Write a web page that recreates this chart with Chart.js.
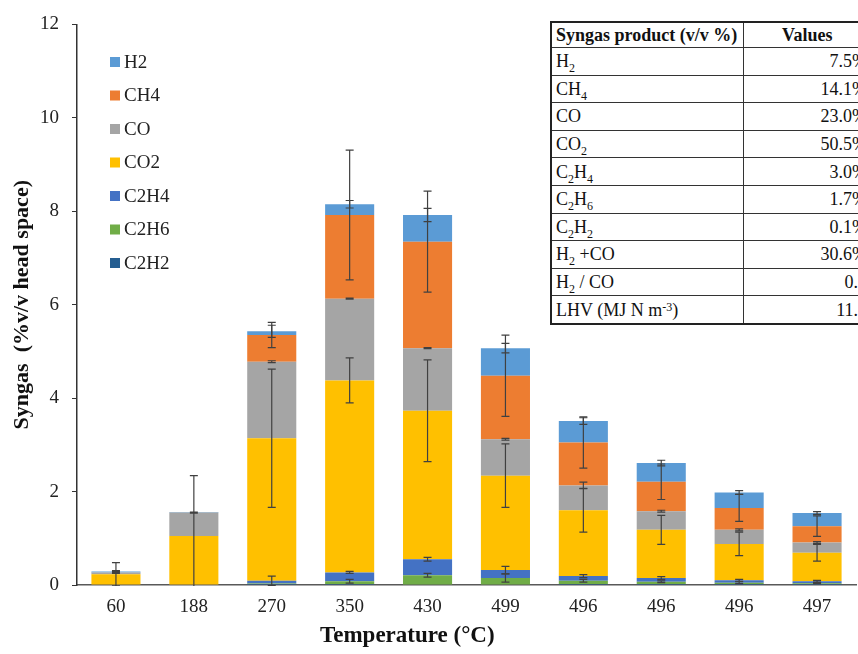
<!DOCTYPE html>
<html>
<head>
<meta charset="utf-8">
<script src="https://cdn.jsdelivr.net/npm/chart.js@4.4.1/dist/chart.umd.min.js"></script>
<style>
  body { margin: 0; background: #fff; overflow: hidden; }
  #wrap { position: relative; width: 858px; height: 654px; overflow: hidden; }
  #grafico { position: absolute; left: 0; top: 0; }
  #tituloX { position: absolute; left: 320px; top: 622px; font: bold 23px "Liberation Serif"; color: #111; white-space: nowrap; }
  #tabela { position: absolute; left: 550px; top: 21px; width: 321px; table-layout: fixed; border-collapse: collapse; font: 18px "Liberation Serif"; color: #111; background: #fff; border: 2px solid #222; }
  #tabela td, #tabela th { border: 1px solid #333; padding: 0 4px; line-height: 18px; white-space: nowrap; overflow: hidden; }
  #tabela th { height: 24px; font-weight: bold; }
  #tabela td { height: 26.6px; }
  #tabela col.c1 { width: 192px; }
  #tabela col.c2 { width: 129px; }
  #tabela td:first-child, #tabela th:first-child { text-align: left; }
  #tabela td:last-child { text-align: right; }
  #tabela sub { font-size: 12px; vertical-align: -5px; line-height: 0; }
  #tabela sup { font-size: 12px; vertical-align: 5px; line-height: 0; }
</style>
</head>
<body>
<div id="wrap">
  <canvas id="grafico" width="858" height="654"></canvas>
  <div id="tituloX">Temperature (°C)</div>
  <table id="tabela"></table>
</div>
<script>
// temperaturas (rótulos do eixo x)
const rotulos = ["60", "188", "270", "350", "430", "499", "496", "496", "496", "497"];

// composição do gás (% v/v head space), de baixo para cima na pilha
const C2H2 = [0, 0, 0.02, 0.02, 0.01, 0.01, 0.02, 0.02, 0.02, 0.02];
const C2H6 = [0, 0, 0.01, 0.06, 0.20, 0.14, 0.07, 0.05, 0.03, 0.02];
const C2H4 = [0, 0, 0.06, 0.19, 0.34, 0.17, 0.10, 0.08, 0.05, 0.04];
const CO2  = [0.23, 1.05, 3.05, 4.11, 3.18, 2.02, 1.41, 1.03, 0.78, 0.61];
const CO   = [0.04, 0.50, 1.64, 1.75, 1.34, 0.78, 0.53, 0.40, 0.30, 0.22];
const CH4  = [0, 0, 0.57, 1.79, 2.28, 1.36, 0.92, 0.63, 0.47, 0.35];
const H2   = [0.02, 0.01, 0.08, 0.23, 0.57, 0.59, 0.46, 0.40, 0.33, 0.28];

// barras de erro (±)
const erroC2H2 = [0, 0, 0, 0, 0, 0, 0, 0, 0, 0];
const erroC2H6 = [0, 0, 0, 0.04, 0.04, 0.09, 0.03, 0.02, 0.02, 0.01];
const erroC2H4 = [0, 0, 0.10, 0.02, 0.04, 0.08, 0.03, 0.03, 0.02, 0.02];
const erroCO2  = [0.25, 1.29, 1.48, 0.48, 1.09, 0.68, 0.47, 0.31, 0.25, 0.18];
const erroCO   = [0.02, 0.01, 0.02, 0.01, 0.01, 0.02, 0.07, 0.02, 0.02, 0.02];
const erroCH4  = [0, 0, 0.27, 1.39, 1.08, 0.87, 0.55, 0.38, 0.29, 0.22];
const erroH2   = [0.02, 0, 0.13, 0.08, 0.14, 0.10, 0.07, 0.06, 0.04, 0.03];

const ticksY = [0, 2, 4, 6, 8, 10, 12];

// tabela de resumo
const produtos = ["H<sub>2</sub>", "CH<sub>4</sub>", "CO", "CO<sub>2</sub>", "C<sub>2</sub>H<sub>4</sub>",
  "C<sub>2</sub>H<sub>6</sub>", "C<sub>2</sub>H<sub>2</sub>", "H<sub>2</sub> +CO", "H<sub>2</sub> / CO",
  "LHV (MJ N m<sup>-3</sup>)"];
const valores = ["7.5%", "14.1%", "23.0%", "50.5%", "3.0%", "1.7%", "0.1%", "30.6%", "0.3", "11.1"];

let html = '<colgroup><col class="c1"><col class="c2"></colgroup>';
html += "<tr><th>Syngas product (v/v %)</th><th>Values</th></tr>";
produtos.forEach((p, i) => {
  html += `<tr><td>${p}</td><td>${valores[i]}</td></tr>`;
});
document.getElementById("tabela").innerHTML = html;

const fonte = '"Liberation Serif", "Times New Roman", serif';

const barrasErro = {
  id: "barrasErro",
  afterDatasetsDraw(chart) {
    const ctx = chart.ctx;
    const y = chart.scales.y;
    const area = chart.chartArea;
    ctx.save();
    ctx.beginPath();
    ctx.rect(area.left, area.top - 1, area.right - area.left, area.bottom - area.top + 2);
    ctx.clip();
    ctx.strokeStyle = "#404040";
    ctx.lineWidth = 1.2;
    const acum = rotulos.map(() => 0);
    chart.data.datasets.forEach((d, i) => {
      const meta = chart.getDatasetMeta(i);
      d.data.forEach((v, j) => {
        acum[j] += v;
        const e = d.erro[j];
        if (!e) return;
        const x = meta.data[j].x;
        const yAlto = y.getPixelForValue(acum[j] + e);
        const yBaixo = y.getPixelForValue(acum[j] - e);
        ctx.beginPath();
        ctx.moveTo(x, yAlto); ctx.lineTo(x, yBaixo);
        ctx.moveTo(x - 4, yAlto); ctx.lineTo(x + 4, yAlto);
        ctx.moveTo(x - 4, yBaixo); ctx.lineTo(x + 4, yBaixo);
        ctx.stroke();
      });
    });
    ctx.restore();
  }
};

const legendaInterna = {
  id: "legendaInterna",
  afterDraw(chart) {
    const ctx = chart.ctx;
    const ds = chart.data.datasets.slice().reverse();
    ctx.save();
    ctx.font = "19px " + fonte;
    ctx.textBaseline = "middle";
    ds.forEach((d, k) => {
      const yy = 62 + k * 33.5;
      ctx.fillStyle = d.backgroundColor;
      ctx.fillRect(110, yy - 5, 10, 10);
      ctx.fillStyle = "#222";
      ctx.fillText(d.label, 124, yy + 1);
    });
    ctx.restore();
  }
};

const ctx = document.getElementById("grafico").getContext("2d");
window.grafico = new Chart(ctx, {
  type: "bar",
  data: {
    labels: rotulos,
    datasets: [
      { label: "C2H2", data: C2H2, erro: erroC2H2, backgroundColor: "#255E91" },
      { label: "C2H6", data: C2H6, erro: erroC2H6, backgroundColor: "#70AD47" },
      { label: "C2H4", data: C2H4, erro: erroC2H4, backgroundColor: "#4472C4" },
      { label: "CO2", data: CO2, erro: erroCO2, backgroundColor: "#FFC000" },
      { label: "CO", data: CO, erro: erroCO, backgroundColor: "#A5A5A5" },
      { label: "CH4", data: CH4, erro: erroCH4, backgroundColor: "#ED7D31" },
      { label: "H2", data: H2, erro: erroH2, backgroundColor: "#5B9BD5" }
    ]
  },
  options: {
    responsive: false,
    animation: false,
    devicePixelRatio: 1,
    layout: { padding: { top: 15, right: 2, bottom: 0, left: 0 } },
    datasets: { bar: { categoryPercentage: 1, barPercentage: 0.63, borderWidth: 0 } },
    plugins: {
      legend: { display: false },
      tooltip: { enabled: false }
    },
    scales: {
      x: {
        stacked: true,
        grid: { display: false, drawTicks: false },
        border: { display: true, color: "#595959", width: 1.5 },
        ticks: { color: "#222", font: { family: fonte, size: 19 }, padding: 11 },
        afterFit(scale) { scale.height = 69; }
      },
      y: {
        stacked: true,
        min: 0,
        max: 12,
        afterBuildTicks(scale) { scale.ticks = ticksY.map(v => ({ value: v })); },
        grid: { display: true, drawOnChartArea: false, drawTicks: true, tickLength: 5, color: "#333" },
        border: { display: true, color: "#333", width: 1.5 },
        ticks: { color: "#222", font: { family: fonte, size: 19 }, padding: 13 },
        title: {
          display: true,
          text: "Syngas  (%v/v head space)",
          color: "#111",
          font: { family: fonte, size: 22, weight: "bold" },
          padding: { top: 9, bottom: 0 }
        },
        afterFit(scale) { scale.width = 77; }
      }
    }
  },
  plugins: [barrasErro, legendaInterna]
});
</script>
</body>
</html>
